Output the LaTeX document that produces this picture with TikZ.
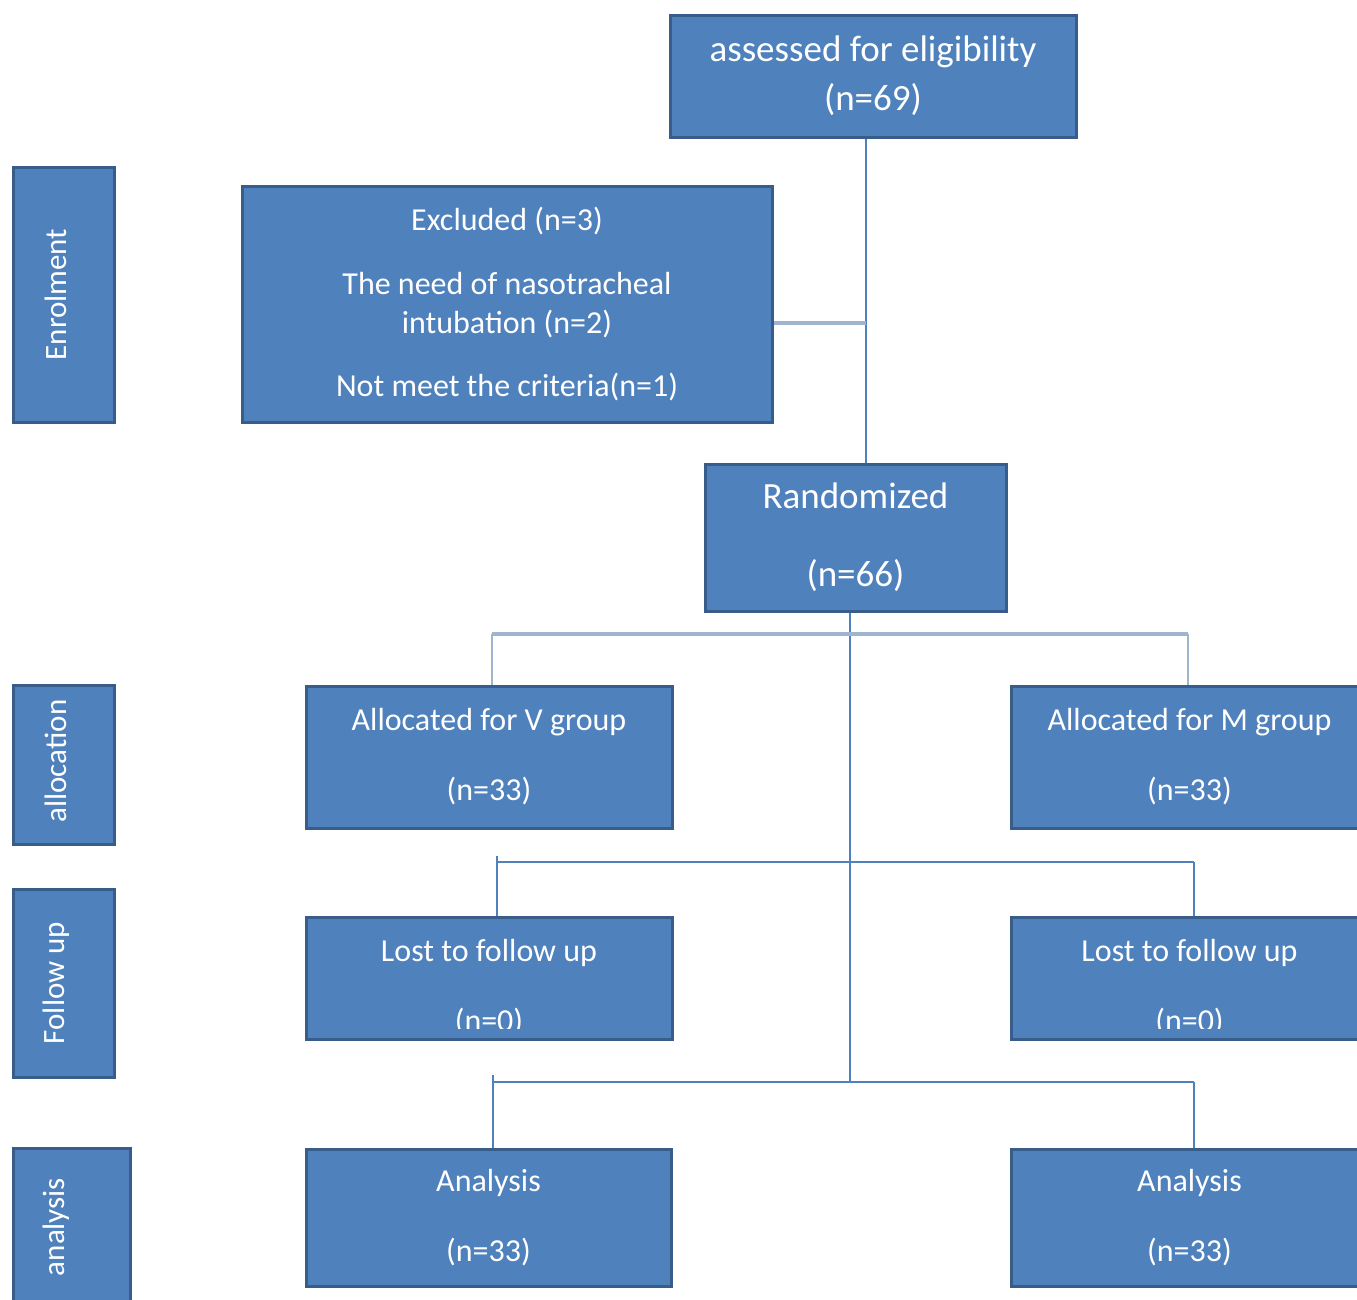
\documentclass[tikz,border=0pt]{standalone}
\usepackage{fontspec}
\setmainfont{Carlito}
\definecolor{boxfill}{HTML}{4F81BD}
\definecolor{boxline}{HTML}{385D8A}
\definecolor{connblue}{HTML}{4F81BD}
\definecolor{conngrey}{HTML}{9FB4CE}
\begin{document}
\begin{tikzpicture}[x=1pt,y=-1pt,
  box/.style={draw=boxline,fill=boxfill,line width=3pt,text=white,inner sep=0pt,
    align=center,font=\fontsize{32}{39}\selectfont},
  bigbox/.style={box,font=\fontsize{37}{45}\selectfont},
  sidebox/.style={box},
  sidetext/.style={text=white,rotate=90,inner sep=0pt,font=\fontsize{31}{38}\selectfont},
  cliptext/.style={text=white,align=center,inner sep=0pt,font=\fontsize{32}{39}\selectfont},
  conn/.style={draw=connblue,line width=2pt},
  conng/.style={draw=conngrey,line width=4pt},
  conngt/.style={draw=conngrey,line width=2.5pt}]
\clip (0,0) rectangle (1357,1299);
\fill[white] (0,0) rectangle (1357,1299);

% main boxes
\node[bigbox,minimum width=406pt,minimum height=122pt] (top) at (873,76)
  {assessed for eligibility\\[4pt](n=69)};
\node[box,minimum width=530pt,minimum height=236pt] (excl) at (507,304)
  {Excluded (n=3)\\[25pt]The need of nasotracheal\\intubation (n=2)\\[24pt]Not meet the criteria(n=1)};
\node[bigbox,minimum width=301pt,minimum height=147pt] (rand) at (855.5,537.5)
  {Randomized\\[33pt](n=66)};
\node[box,minimum width=366pt,minimum height=142pt] (allocV) at (489,757)
  {Allocated for V group\\[31pt](n=33)};
\node[box,minimum width=357pt,minimum height=142pt] (allocM) at (1189.5,757)
  {Allocated for M group\\[31pt](n=33)};
\node[box,minimum width=366pt,minimum height=122pt] (lostV) at (489,978) {};
\node[box,minimum width=357pt,minimum height=122pt] (lostM) at (1189.5,978) {};
\begin{scope}
  \clip (lostV.north west) rectangle ([yshift=12pt]lostV.south east);
  \node[cliptext] (lostVt) at ([yshift=-10pt]lostV.center)
    {Lost to follow up\\[31pt](n=0)};
\end{scope}
\begin{scope}
  \clip (lostM.north west) rectangle ([yshift=12pt]lostM.south east);
  \node[cliptext] (lostMt) at ([yshift=-10pt]lostM.center)
    {Lost to follow up\\[31pt](n=0)};
\end{scope}
\node[box,minimum width=365pt,minimum height=137pt] (anaV) at (488.5,1217.5)
  {Analysis\\[31pt](n=33)};
\node[box,minimum width=357pt,minimum height=137pt] (anaM) at (1189.5,1217.5)
  {Analysis\\[31pt](n=33)};

% side boxes
\node[sidebox,minimum width=101pt,minimum height=255pt] (sEnrol) at (63.5,294.5) {};
\node[sidetext] (tEnrol) at (56,294.5) {Enrolment};
\node[sidebox,minimum width=101pt,minimum height=159pt] (sAlloc) at (63.5,764.5) {};
\node[sidetext] (tAlloc) at (56,761) {allocation};
\node[sidebox,minimum width=101pt,minimum height=188pt] (sFollow) at (63.5,983) {};
\node[sidetext] (tFollow) at (56,983) {Follow up};
\node[sidebox,minimum width=117pt,minimum height=160pt] (sAna) at (71.5,1228) {};
\node[sidetext] (tAna) at (56,1227) {analysis};

% connectors
\coordinate (tA) at (850,1082);
\draw[conn] ([xshift=-7pt]top.south) -- ([xshift=-7pt]top.south |- rand.north);
\draw[conng] ([yshift=-19pt]excl.east) -- ([yshift=-19pt,xshift=-7pt]excl.east -| top.south);
\draw[conn] ([xshift=-5.5pt]rand.south) -- (tA);
% allocation branch
\coordinate (a0) at (850,634);
\draw[conng] ([xshift=3pt]allocV.north |- a0) -- ([xshift=-1.5pt]allocM.north |- a0);
\draw[conngt] ([xshift=3pt]allocV.north |- a0) -- ([xshift=3pt]allocV.north);
\draw[conngt] ([xshift=-1.5pt]allocM.north |- a0) -- ([xshift=-1.5pt]allocM.north);
% follow up branch
\coordinate (f0) at (850,862);
\draw[conn] ([xshift=8pt]lostV.north |- f0) -- ([xshift=4.5pt]lostM.north |- f0);
\draw[conn] ([xshift=8pt,yshift=6pt]lostV.north |- f0) -- ([xshift=8pt]lostV.north);
\draw[conn] ([xshift=4.5pt]lostM.north |- f0) -- ([xshift=4.5pt]lostM.north);
% analysis branch
\draw[conn] ([xshift=4.5pt]anaV.north |- tA) -- ([xshift=4.5pt]anaM.north |- tA);
\draw[conn] ([xshift=4.5pt,yshift=7pt]anaV.north |- tA) -- ([xshift=4.5pt]anaV.north);
\draw[conn] ([xshift=4.5pt]anaM.north |- tA) -- ([xshift=4.5pt]anaM.north);
\end{tikzpicture}
\end{document}
